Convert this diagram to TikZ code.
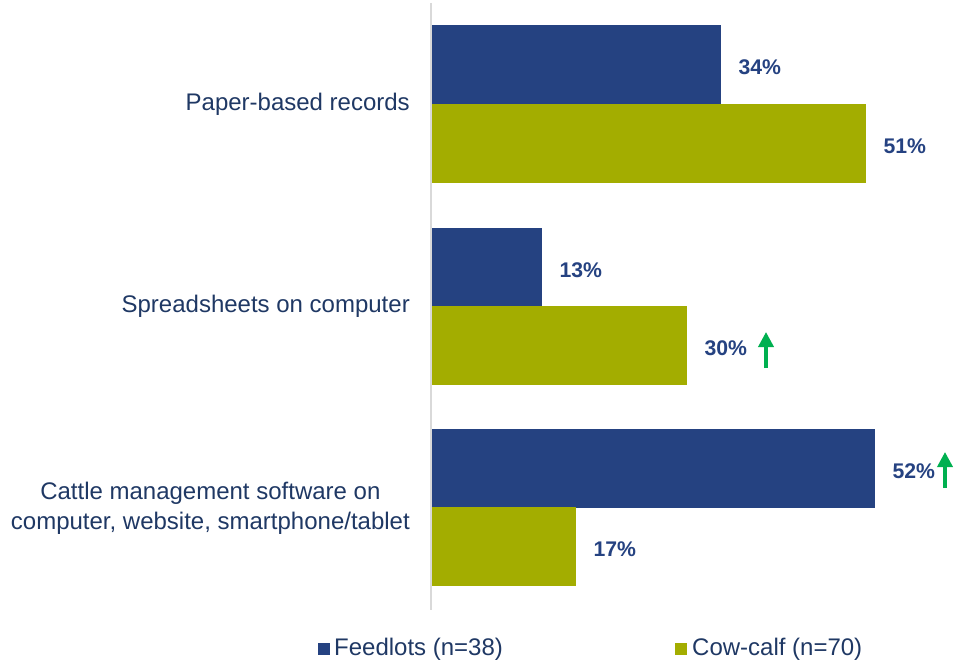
\documentclass[tikz,border=0pt]{standalone}
\usepackage{fontspec}
\setmainfont{Liberation Sans}
\usetikzlibrary{arrows.meta}
\definecolor{barblue}{HTML}{254281}
\definecolor{bargreen}{HTML}{A3AD00}
\definecolor{txtblue}{HTML}{1F3864}
\definecolor{upgreen}{HTML}{00B050}
\definecolor{axisgrey}{HTML}{D9D9D9}
\begin{document}
\begin{tikzpicture}[x=1pt,y=-1pt,
  bar/.style={draw=none,inner sep=0pt,anchor=north west,minimum height=79pt},
  fbar/.style={bar,fill=barblue},
  cbar/.style={bar,fill=bargreen},
  pct/.style={anchor=west,inner sep=0pt,text=barblue,font=\fontsize{21.2}{24}\selectfont\bfseries},
  cat/.style={anchor=east,inner sep=0pt,align=center,text=txtblue,font=\fontsize{24}{30}\selectfont},
  leg/.style={anchor=west,inner sep=0pt,text=txtblue,font=\fontsize{24}{28}\selectfont},
  up/.style={draw=upgreen,line width=3.5pt,-{Triangle[width=15pt,length=15pt]}}]
\useasboundingbox (0,0) rectangle (955,663);
% axis
\coordinate (axtop) at (431,3);
\coordinate (axbot) at (431,610);
\draw[axisgrey,line width=2pt] (axtop) -- (axbot);
% bars
\node[fbar,minimum width=289pt] (f1) at (432,25) {};
\node[cbar,minimum width=434pt] (c1) at (432,104) {};
\node[fbar,minimum width=110pt] (f2) at (432,228) {};
\node[cbar,minimum width=255pt] (c2) at (432,306) {};
\node[fbar,minimum width=443pt] (f3) at (432,429) {};
\node[cbar,minimum width=144pt] (c3) at (432,507) {};
% values
\node[pct] (p1) at ([xshift=17pt,yshift=-2.5pt]f1.east) {34\%};
\node[pct] (p2) at ([xshift=17pt,yshift=-2.5pt]c1.east) {51\%};
\node[pct] (p3) at ([xshift=17pt,yshift=-2.5pt]f2.east) {13\%};
\node[pct] (p4) at ([xshift=17pt,yshift=-2.5pt]c2.east) {30\%};
\node[pct] (p5) at ([xshift=17pt,yshift=-2.5pt]f3.east) {52\%};
\node[pct] (p6) at ([xshift=17pt,yshift=-2.5pt]c3.east) {17\%};
% arrows
\coordinate (a1s) at (766,368);
\coordinate (a1e) at (766,332);
\coordinate (a2s) at (945,488);
\coordinate (a2e) at (945,452);
\draw[up] (a1s) -- (a1e);
\draw[up] (a2s) -- (a2e);
% categories
\node[cat] (k1) at (410,104) {Paper-based records};
\node[cat] (k2) at (410,306) {Spreadsheets on computer};
\node[cat] (k3) at (410,508) {Cattle management software on\\computer, website, smartphone/tablet};
% legend
\node[fill=barblue,minimum size=12.5pt,inner sep=0pt] (lf) at (324,649) {};
\node[leg] (lft) at (334,649) {Feedlots (n=38)};
\node[fill=bargreen,minimum size=12.5pt,inner sep=0pt] (lc) at (681,649) {};
\node[leg] (lct) at (692,649) {Cow-calf (n=70)};
\end{tikzpicture}
\end{document}
